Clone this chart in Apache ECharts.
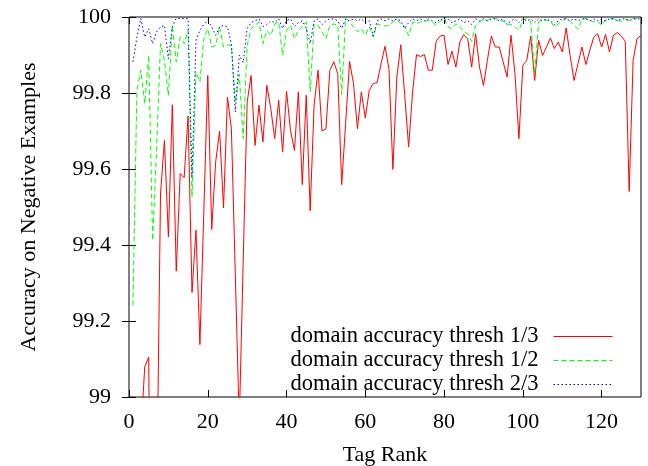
<!DOCTYPE html>
<html>
<head>
<meta charset="utf-8">
<script src="https://cdn.jsdelivr.net/npm/echarts@6/dist/echarts.min.js"></script>
<style>
  html, body { margin: 0; padding: 0; background: #fff; }
  #chart { width: 648px; height: 466px; }
</style>
</head>
<body>
<div id="chart"></div>
<script>
// accuracy per tag rank (rank = index + 1)
const thresh13 = [
  98.5, 98.7, 98.9, 99.08, 99.105, 97.85, 98.7, 99.535, 99.675, 99.421,
  99.769, 99.331, 99.588, 99.577, 99.739, 99.275, 99.439, 99.138, 99.49, 99.846,
  99.441, 99.618, 99.70, 99.498, 99.789, 99.706, 99.32, 98.93, 99.36, 99.776,
  99.846, 99.662, 99.768, 99.671, 99.820, 99.759, 99.680, 99.781, 99.645, 99.804,
  99.702, 99.649, 99.803, 99.559, 99.794, 99.490, 99.768, 99.860, 99.700, 99.706,
  99.860, 99.882, 99.851, 99.559, 99.72, 99.883, 99.825, 99.706, 99.803, 99.734,
  99.807, 99.825, 99.827, 99.877, 99.923, 99.864, 99.599, 99.842, 99.927, 99.794,
  99.658, 99.803, 99.901, 99.896, 99.901, 99.860, 99.860, 99.936, 99.950, 99.952,
  99.875, 99.910, 99.868, 99.934, 99.954, 99.943, 99.868, 99.956, 99.868, 99.820,
  99.886, 99.950, 99.921, 99.921, 99.882, 99.842, 99.952, 99.851, 99.680, 99.873,
  99.886, 99.950, 99.833, 99.939, 99.899, 99.921, 99.945, 99.917, 99.934, 99.908,
  99.971, 99.899, 99.833, 99.877, 99.921, 99.875, 99.912, 99.947, 99.956, 99.921,
  99.954, 99.908, 99.952, 99.959, 99.950, 99.936, 99.541, 99.886, 99.943, 99.952
];
const thresh12 = [
  99.241, 99.807, 99.860, 99.772, 99.899, 99.412, 99.65, 99.930, 99.886, 99.794,
  99.978, 99.882, 99.947, 99.930, 99.965, 99.526, 99.855, 99.829, 99.943, 99.969,
  99.921, 99.925, 99.974, 99.921, 99.927, 99.925, 99.776, 99.85, 99.68, 99.925,
  99.969, 99.978, 99.987, 99.930, 99.965, 99.952, 99.982, 99.987, 99.899, 99.965,
  99.978, 99.943, 99.965, 99.974, 99.987, 99.803, 99.982, 99.978, 99.961, 99.943,
  99.978, 99.982, 99.978, 99.796, 99.997, 99.987, 99.974, 99.961, 99.969, 99.952,
  99.974, 99.947, 99.982, 99.978, 99.976, 99.978, 99.987, 99.994, 99.982, 99.974,
  99.950, 99.987, 99.982, 99.987, 99.989, 99.991, 99.987, 99.978, 99.989, 99.996,
  99.974, 99.969, 99.982, 99.974, 99.961, 99.956, 99.936, 99.978, 99.987, 99.994,
  99.991, 99.996, 99.997, 99.991, 99.989, 99.982, 99.980, 99.974, 99.965, 99.991,
  99.996, 99.989, 99.851, 99.987, 99.994, 99.991, 99.989, 99.974, 99.982, 99.991,
  99.996, 99.989, 99.978, 99.968, 99.994, 99.996, 99.991, 99.987, 99.989, 99.978,
  99.991, 99.994, 99.996, 99.991, 99.989, 99.994, 99.991, 99.996, 99.997, 99.997
];
const thresh23 = [
  99.882, 99.947, 99.996, 99.947, 99.969, 99.930, 99.961, 99.974, 99.978, 99.890,
  99.974, 99.997, 99.996, 99.996, 99.996, 99.58, 99.939, 99.965, 99.980, 99.991,
  99.974, 99.952, 99.974, 99.978, 99.974, 99.93, 99.75, 99.90, 99.88, 99.97,
  99.985, 99.99, 99.995, 99.975, 99.98, 99.99, 99.985, 99.995, 99.97, 99.99,
  99.995, 99.975, 99.985, 99.99, 99.97, 99.93, 99.99, 99.995, 99.98, 99.99,
  99.995, 99.995, 99.99, 99.97, 99.995, 99.99, 99.995, 99.99, 99.995, 99.985,
  99.99, 99.95, 99.99, 99.995, 99.99, 99.995, 99.99, 99.995, 99.99, 99.97,
  99.985, 99.995, 99.99, 99.995, 99.99, 99.995, 99.99, 99.985, 99.995, 99.99,
  99.995, 99.985, 99.99, 99.995, 99.985, 99.99, 99.98, 99.995, 99.99, 99.995,
  99.99, 99.995, 99.995, 99.99, 99.995, 99.98, 99.99, 99.995, 99.985, 99.995,
  99.99, 99.995, 99.985, 99.995, 99.99, 99.995, 99.99, 99.98, 99.99, 99.995,
  99.995, 99.99, 99.995, 99.99, 99.995, 99.995, 99.99, 99.995, 99.99, 99.995,
  99.99, 99.995, 99.995, 99.99, 99.995, 99.995, 99.99, 99.995, 99.995, 99.995
];
const seriesNames = [
  "domain accuracy thresh 1/3",
  "domain accuracy thresh 1/2",
  "domain accuracy thresh 2/3"
];
const xTicks = [0, 20, 40, 60, 80, 100, 120];
const yTicks = [99, 99.2, 99.4, 99.6, 99.8, 100];

const FONT = "'Liberation Serif', 'DejaVu Serif', serif";
const withRank = arr => arr.map((v, i) => [i + 1, v]);

const chart = echarts.init(document.getElementById("chart"), null, { renderer: "canvas" });

const tickStyle = { show: true, inside: true, length: 7, lineStyle: { color: "#000", width: 1 } };

const option = {
  animation: false,
  backgroundColor: "#fff",
  grid: {
    left: 129, right: 7, top: 17, bottom: 69,
    show: true, borderColor: "#000", borderWidth: 1,
    backgroundColor: "transparent"
  },
  xAxis: [
    {
      type: "value", min: 0, max: 130, interval: 20, position: "bottom",
      axisLine: { show: false },
      axisTick: tickStyle,
      splitLine: { show: false },
      axisLabel: {
        margin: 14, color: "#000", fontFamily: FONT, fontSize: 22,
        showMaxLabel: false,
        formatter: v => (xTicks.includes(v) ? String(v) : "")
      }
    },
    {
      type: "value", min: 0, max: 130, interval: 20, position: "top",
      axisLine: { show: false }, axisTick: tickStyle,
      splitLine: { show: false }, axisLabel: { show: false }
    }
  ],
  yAxis: [
    {
      type: "value", min: 99, max: 100, interval: 0.2, position: "left",
      axisLine: { show: false },
      axisTick: tickStyle,
      splitLine: { show: false },
      axisLabel: {
        margin: 18, color: "#000", fontFamily: FONT, fontSize: 22,
        formatter: v => {
          const t = yTicks.find(y => Math.abs(y - v) < 1e-6);
          return t === undefined ? "" : String(t);
        }
      }
    },
    {
      type: "value", min: 99, max: 100, interval: 0.2, position: "right",
      axisLine: { show: false }, axisTick: tickStyle,
      splitLine: { show: false }, axisLabel: { show: false }
    }
  ],
  legend: {
    orient: "vertical",
    right: 35,
    top: 325,
    align: "right",
    itemWidth: 59,
    itemHeight: 14,
    itemGap: 1,
    padding: 0,
    itemStyle: { opacity: 0, borderWidth: 0 },
    lineStyle: { width: 1 },
    textStyle: { color: "#000", fontFamily: FONT, fontSize: 22.5, padding: [0, 10, 0, 0] },
    data: seriesNames
  },
  graphic: [
    {
      type: "text", x: 29, y: 207, rotation: Math.PI / 2,
      style: {
        text: "Accuracy on Negative Examples", fill: "#000",
        font: "22px " + FONT, textAlign: "center", textVerticalAlign: "middle"
      }
    },
    {
      type: "text", x: 385, y: 455,
      style: {
        text: "Tag Rank", fill: "#000",
        font: "22px " + FONT, textAlign: "center", textVerticalAlign: "middle"
      }
    }
  ],
  series: [
    {
      name: seriesNames[0], type: "line", data: withRank(thresh13),
      symbol: "none", clip: true,
      lineStyle: { color: "#ff0000", width: 1 },
      itemStyle: { color: "#ff0000" }
    },
    {
      name: seriesNames[1], type: "line", data: withRank(thresh12),
      symbol: "none", clip: true,
      lineStyle: { color: "#00ff00", width: 1, type: [5, 3] },
      itemStyle: { color: "#00ff00" }
    },
    {
      name: seriesNames[2], type: "line", data: withRank(thresh23),
      symbol: "none", clip: true,
      lineStyle: { color: "#0000ff", width: 1, type: [1.5, 2.5] },
      itemStyle: { color: "#0000ff" }
    }
  ]
};

chart.setOption(option);
</script>
</body>
</html>
